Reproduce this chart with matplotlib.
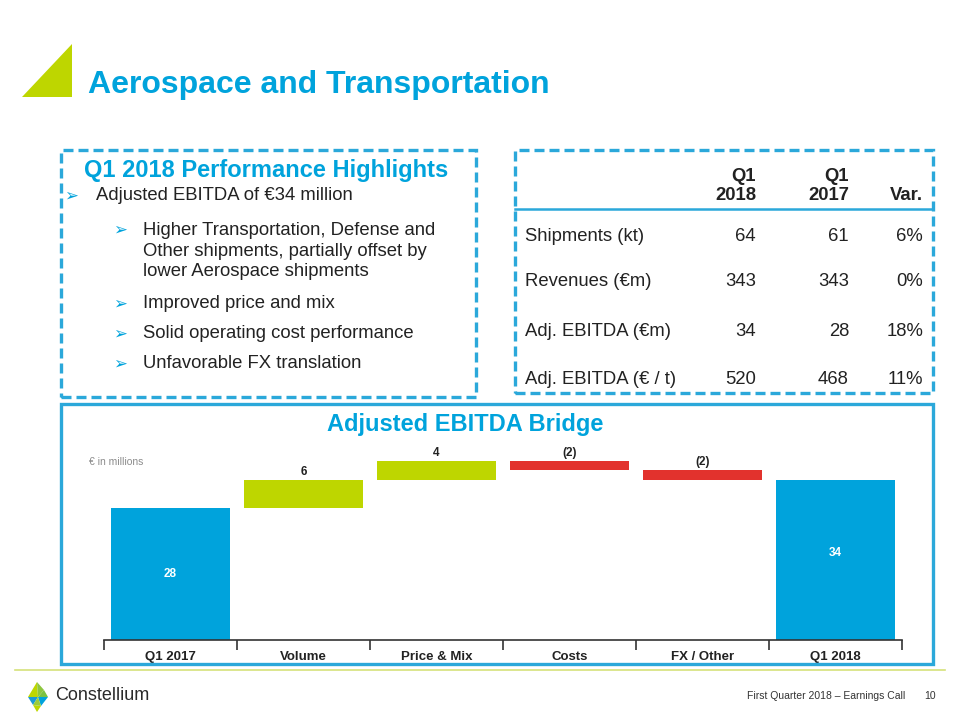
import matplotlib
matplotlib.use("Agg")
import matplotlib.pyplot as plt
from matplotlib.patches import Rectangle, Polygon
from matplotlib.lines import Line2D

plt.rcParams['font.family'] = ['Liberation Sans', 'DejaVu Sans']

W, H = 960, 720
BLUE = '#00A3DC'
BOX = '#2BA8DA'
LIME = '#BED600'
RED = '#E2322D'
DARK = '#222222'

# bridge data
categories = ['Q1 2017', 'Volume', 'Price & Mix', 'Costs', 'FX / Other', 'Q1 2018']
start_value = 28
deltas = [6, 4, -2, -2]
end_value = 34

# table data
col_heads = ['Q1\n2018', 'Q1\n2017', 'Var.']
row_labels = ['Shipments (kt)', 'Revenues (€m)', 'Adj. EBITDA (€m)', 'Adj. EBITDA (€ / t)']
q1_2018 = ['64', '343', '34', '520']
q1_2017 = ['61', '343', '28', '468']
var = ['6%', '0%', '18%', '11%']

main_bullet = 'Adjusted EBITDA of €34 million'
sub_bullets = ['Higher Transportation, Defense and\nOther shipments, partially offset by\nlower Aerospace shipments',
               'Improved price and mix',
               'Solid operating cost performance',
               'Unfavorable FX translation']


def fx(x):
    return x / W


def fy(y):
    return 1 - y / H


def box(x0, y0, x1, y1, ls):
    r = Rectangle((fx(x0), fy(y1)), fx(x1) - fx(x0), fy(y0) - fy(y1), transform=fig.transFigure,
                  fill=False, ec=BOX, lw=2.4, ls=ls)
    fig.add_artist(r)


def text(x, y, s, **kw):
    kw.setdefault('va', 'center')
    fig.text(fx(x), fy(y), s, **kw)


fig = plt.figure(figsize=(9.6, 7.2), dpi=100)

# header
fig.add_artist(Polygon([(fx(22), fy(97)), (fx(72), fy(97)), (fx(72), fy(44))],
                       closed=True, transform=fig.transFigure, fc=LIME, ec='none'))
text(88, 85, 'Aerospace and Transportation', color=BLUE, fontsize=23, fontweight='bold')

# boxes
box(61, 150, 476, 397, (0, (3, 1.5)))
box(515, 150, 933, 393, (0, (3, 1.5)))
box(61, 404, 933, 664, '-')
fig.add_artist(Line2D([fx(515), fx(933)], [fy(209), fy(209)], transform=fig.transFigure, color=BOX, lw=1.8))
fig.add_artist(Line2D([fx(15), fx(945)], [fy(670), fy(670)], transform=fig.transFigure, color='#D6E27A', lw=1.2))

# highlights
text(266, 170, 'Q1 2018 Performance Highlights', color=BLUE, fontsize=17, fontweight='bold', ha='center')
text(71, 196, '➢', color=BLUE, fontsize=12, family='DejaVu Sans', ha='center')
text(96, 195, main_bullet, color=DARK, fontsize=13.3)
ys = [251, 303, 333, 363]
for yy, s in zip(ys, sub_bullets):
    by = yy - 22 if '\n' in s else yy
    text(120, by + 1, '➢', color=BLUE, fontsize=12, family='DejaVu Sans', ha='center')
    text(143, yy, s, color=DARK, fontsize=13.3, linespacing=1.3)

# table
col_x = [756, 849, 923]
for cx, h in zip(col_x, col_heads):
    text(cx, 200, h, color=DARK, fontsize=13.3, fontweight='bold', ha='right', va='baseline', linespacing=1.15)
row_y = [237, 282, 332, 380]
for ry, lab, a, b, v in zip(row_y, row_labels, q1_2018, q1_2017, var):
    text(525, ry, lab, color=DARK, fontsize=13.3)
    for cx, s in zip(col_x, [a, b, v]):
        text(cx, ry, s, color=DARK, fontsize=13.3, ha='right')

# bridge chart
text(465, 425, 'Adjusted EBITDA Bridge', color=BLUE, fontsize=17, fontweight='bold', ha='center')
text(89, 462, '€ in millions', color='#8C8C8C', fontsize=7.5)

ax = fig.add_axes([fx(104), fy(640), fx(902) - fx(104), fy(445) - fy(640)])
px_per_unit = 132 / start_value
ax.set_ylim(0, 195 / px_per_unit)
ax.set_xlim(-0.5, len(categories) - 0.5)

bottoms, heights, colors = [0], [start_value], [BLUE]
level = start_value
for d in deltas:
    if d >= 0:
        bottoms.append(level)
        heights.append(d)
        colors.append(LIME)
    else:
        bottoms.append(level + d)
        heights.append(-d)
        colors.append(RED)
    level += d
bottoms.append(0)
heights.append(end_value)
colors.append(BLUE)

xs = range(len(categories))
ax.bar(xs, heights, bottom=bottoms, width=0.9, color=colors)

lbl = dict(fontsize=8.5, fontweight='bold', ha='center')
ax.text(0, start_value / 2, str(start_value), color='white', va='center', **lbl)
ax.text(5, end_value / 2 + 1.5, str(end_value), color='white', va='center', **lbl)
for i, d in enumerate(deltas, start=1):
    s = str(d) if d >= 0 else '(%d)' % -d
    top = bottoms[i] + heights[i]
    ax.text(i, top + 0.4, s, color=DARK, va='bottom', **lbl)

for sp in ['top', 'right', 'left']:
    ax.spines[sp].set_visible(False)
ax.spines['bottom'].set_color('#333333')
ax.spines['bottom'].set_linewidth(1.2)
ax.set_yticks([])
ax.set_xticks(list(xs))
ax.set_xticklabels(categories, fontsize=9.5, fontweight='bold', color=DARK)
ax.tick_params(axis='x', which='major', length=0, pad=8)
ax.set_xticks([i - 0.5 for i in range(len(categories) + 1)], minor=True)
ax.tick_params(axis='x', which='minor', length=7, width=1.2, color='#333333', direction='out')
ax.patch.set_alpha(0)

# footer logo
logo = [
    ([(37, 682), (28, 697), (38, 697)], LIME),
    ([(37, 682), (38, 697), (44, 690)], '#8DC63F'),
    ([(38, 697), (44, 690), (48, 697)], '#7CC242'),
    ([(38, 697), (48, 697), (41, 706)], BLUE),
    ([(28, 697), (38, 697), (33, 705)], '#1C9AD6'),
    ([(33, 705), (41, 706), (37, 712)], LIME),
    ([(38, 697), (33, 705), (41, 706)], '#9CCB3B'),
]
for pts, c in logo:
    fig.add_artist(Polygon([(fx(a), fy(b)) for a, b in pts], closed=True,
                           transform=fig.transFigure, fc=c, ec='none'))
text(55, 696, 'Constellium', color='#2A2A2A', fontsize=13)
text(905, 696, 'First Quarter 2018 – Earnings Call', color='#333333', fontsize=7.5, ha='right')
text(936, 696, '10', color='#333333', fontsize=7.5, ha='right')

fig.savefig('out.png', dpi=100)
